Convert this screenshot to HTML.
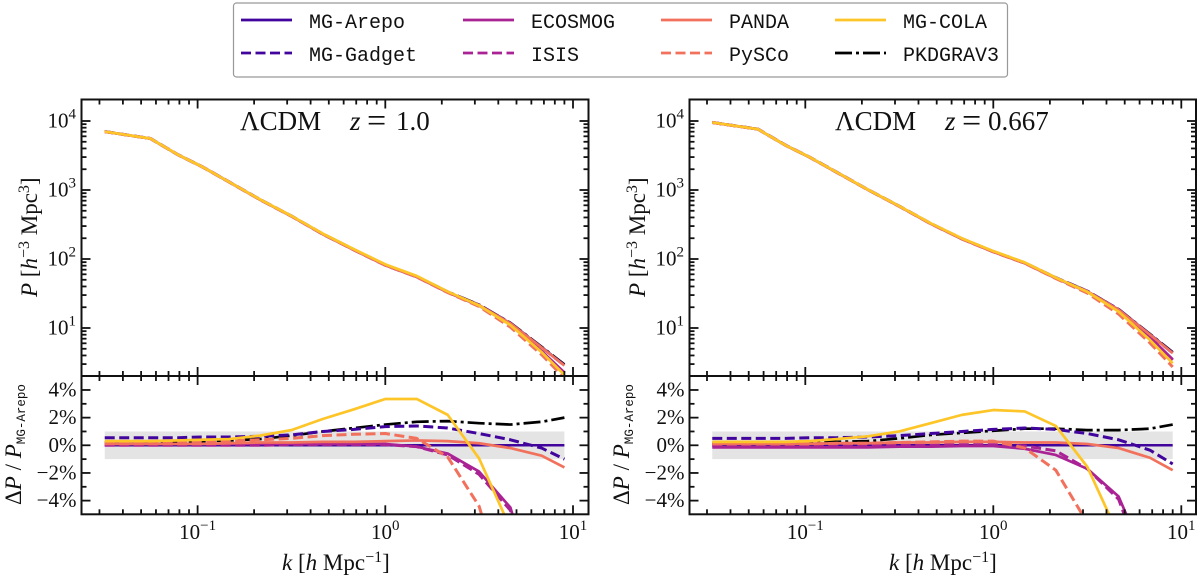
<!DOCTYPE html>
<html lang="en">
<head>
<meta charset="utf-8">
<title>Matter power spectrum comparison</title>
<style>
html,body{margin:0;padding:0;background:#fff;width:1200px;height:579px;overflow:hidden}
svg{display:block}
text{font-family:"Liberation Serif",serif;fill:#111}
.mono{font-family:"Liberation Mono",monospace}
.it{font-style:italic}
</style>
</head>
<body>
<svg id="figure" xmlns="http://www.w3.org/2000/svg" width="1200" height="579" viewBox="0 0 1200 579">
  <g>
    <rect x="233.5" y="3" width="774" height="74" rx="3" fill="#fff" stroke="#999" stroke-width="1.2"/>
    <g><line x1="241" x2="292" y1="20" y2="20" stroke="#41049d" stroke-width="2.8"/><text class="mono" x="309" y="28" font-size="20">MG-Arepo</text></g>
    <g><line x1="241" x2="292" y1="53" y2="53" stroke="#41049d" stroke-width="2.8" stroke-dasharray="10 4.5"/><text class="mono" x="309" y="61" font-size="20">MG-Gadget</text></g>
    <g><line x1="463" x2="514" y1="20" y2="20" stroke="#aa2395" stroke-width="2.8"/><text class="mono" x="531" y="28" font-size="20">ECOSMOG</text></g>
    <g><line x1="463" x2="514" y1="53" y2="53" stroke="#aa2395" stroke-width="2.8" stroke-dasharray="10 4.5"/><text class="mono" x="531" y="61" font-size="20">ISIS</text></g>
    <g><line x1="661" x2="712" y1="20" y2="20" stroke="#f1715c" stroke-width="2.8"/><text class="mono" x="729" y="28" font-size="20">PANDA</text></g>
    <g><line x1="661" x2="712" y1="53" y2="53" stroke="#f1715c" stroke-width="2.8" stroke-dasharray="10 4.5"/><text class="mono" x="729" y="61" font-size="20">PySCo</text></g>
    <g><line x1="835" x2="886" y1="20" y2="20" stroke="#fdc527" stroke-width="2.8"/><text class="mono" x="903" y="28" font-size="20">MG-COLA</text></g>
    <g><line x1="835" x2="886" y1="53" y2="53" stroke="#000" stroke-width="2.8" stroke-dasharray="17 4 3 4"/><text class="mono" x="903" y="61" font-size="20">PKDGRAV3</text></g>
  </g>

  <g>
    <text font-size="27" y="130" x="240">ΛCDM</text>
    <text font-size="27" y="130"><tspan class="it" x="350">z</tspan><tspan x="367" y="131.5" font-size="34">=</tspan><tspan x="396" y="130">1.0</tspan></text>
    <text font-size="23" transform="translate(37,297) rotate(-90)"><tspan class="it">P</tspan> [<tspan class="it">h</tspan><tspan font-size="16" dy="-8">−3</tspan><tspan dy="8"> Mpc</tspan><tspan font-size="16" dy="-8">3</tspan><tspan dy="8">]</tspan></text>
    <text font-size="23" transform="translate(21,505) rotate(-90)">Δ<tspan class="it">P</tspan> / <tspan class="it">P</tspan><tspan class="mono" font-size="12.5" dy="4">MG-Arepo</tspan></text>
    <text font-size="23" x="282" y="570"><tspan class="it">k</tspan> [<tspan class="it">h</tspan> Mpc<tspan font-size="16" dy="-8">−1</tspan><tspan dy="8">]</tspan></text>
  </g>
  <g>
    <text font-size="27" y="130" x="835">ΛCDM</text>
    <text font-size="27" y="130"><tspan class="it" x="945">z</tspan><tspan x="962" y="131.5" font-size="34">=</tspan><tspan x="988" y="130">0.667</tspan></text>
    <text font-size="23" transform="translate(645,297) rotate(-90)"><tspan class="it">P</tspan> [<tspan class="it">h</tspan><tspan font-size="16" dy="-8">−3</tspan><tspan dy="8"> Mpc</tspan><tspan font-size="16" dy="-8">3</tspan><tspan dy="8">]</tspan></text>
    <text font-size="23" transform="translate(629,505) rotate(-90)">Δ<tspan class="it">P</tspan> / <tspan class="it">P</tspan><tspan class="mono" font-size="12.5" dy="4">MG-Arepo</tspan></text>
    <text font-size="23" x="889" y="570"><tspan class="it">k</tspan> [<tspan class="it">h</tspan> Mpc<tspan font-size="16" dy="-8">−1</tspan><tspan dy="8">]</tspan></text>
  </g>
</svg>
<script>
// ---- data ----
const kValues = [0.032,0.056,0.079,0.105,0.147,0.215,0.316,0.464,0.681,1.0,1.47,2.15,3.16,4.64,6.81,9.0];

// reference spectrum (MG-Arepo)
const powerZ1 = [7000,5560,3210,2190,1306,724,417,229,135,81,55,33,21.4,11.7,5.25,2.9];
const powerZ0667 = [9500,7600,4400,3000,1800,1010,580,325,195,127,87,53,34,18.5,8.1,4.4];

// percent differences relative to MG-Arepo, z = 1.0
const gadgetZ1 = [0.55,0.55,0.55,0.6,0.6,0.65,0.75,1.0,1.15,1.35,1.4,1.25,0.85,0.4,-0.2,-1.0];
const ecosmogZ1 = [0.1,0.1,0.1,0.1,0.1,0.1,0.1,0.1,0.1,0.1,-0.1,-0.6,-1.9,-4.5,-12,-22];
const isisZ1 = [0.0,0.0,0.0,0.0,0.0,0.0,0.05,0.05,0.05,0.05,-0.1,-0.7,-2.1,-4.7,-13,-24];
const pandaZ1 = [0.1,0.1,0.1,0.1,0.15,0.2,0.2,0.25,0.25,0.3,0.35,0.3,0.15,-0.2,-0.75,-1.6];
const pyscoZ1 = [0.2,0.2,0.25,0.3,0.3,0.4,0.5,0.7,0.8,0.85,0.5,-0.85,-4.4,-12,-22,-35];
const colaZ1 = [0.3,0.3,0.35,0.4,0.45,0.7,1.1,1.9,2.6,3.35,3.35,2.2,-0.95,-6,-15,-28];
const pkdgravZ1 = [0.2,0.2,0.25,0.3,0.35,0.45,0.7,1.0,1.25,1.5,1.7,1.75,1.6,1.5,1.7,2.0];

// percent differences relative to MG-Arepo, z = 0.667
const gadgetZ0667 = [0.5,0.5,0.5,0.55,0.55,0.6,0.7,0.85,1.0,1.15,1.25,1.15,0.85,0.4,-0.35,-1.35];
const ecosmogZ0667 = [-0.15,-0.15,-0.15,-0.15,-0.15,-0.15,-0.1,-0.1,-0.05,-0.05,-0.25,-0.7,-1.7,-3.7,-9,-20];
const isisZ0667 = [0.0,0.0,0.0,0.0,0.0,0.0,0.0,0.0,0.05,0.05,-0.05,-0.4,-1.7,-3.9,-10,-22];
const pandaZ0667 = [0.1,0.1,0.1,0.1,0.15,0.15,0.2,0.2,0.25,0.25,0.2,0.2,0.1,-0.2,-0.9,-1.8];
const pyscoZ0667 = [0.1,0.1,0.1,0.1,0.15,0.15,0.2,0.25,0.3,0.3,-0.2,-1.8,-5.6,-14,-25,-38];
const colaZ0667 = [0.25,0.25,0.25,0.3,0.45,0.65,1.0,1.6,2.2,2.55,2.45,1.4,-1.55,-6.5,-17,-30];
const pkdgravZ0667 = [0.15,0.15,0.2,0.2,0.25,0.3,0.5,0.75,0.9,1.05,1.2,1.2,1.1,1.1,1.2,1.5];

// tick labels
const xTickExponents = ["−1","0","1"];
const xTickValues = [0.1,1,10];
const xMinorDecades = [0.01,0.1,1];
const powerTickExponents = ["1","2","3","4"];
const powerTickValues = [10,100,1000,10000];
const residualTickLabels = ["4%","2%","0%","−2%","−4%"];
const residualTickValues = [4,2,0,-2,-4];
const residualMinorValues = [3,1,-1,-3];

const arepoDelta = kValues.map(function(){return 0;});

// ---- drawing ----
const SVGNS = 'http://www.w3.org/2000/svg';
const svg = document.getElementById('figure');

function make(parent, tag, attrs, name) {
  const el = document.createElementNS(SVGNS, tag);
  for (const a in attrs) el.setAttribute(a, attrs[a]);
  
  
  parent.appendChild(el);
  return el;
}

// Build a path through the points, cutting segments at the vertical limits.
function clippedPath(xs, ys, yMin, yMax) {
  let d = '';
  let penDown = false;
  for (let i = 0; i < xs.length - 1; i++) {
    let x0 = xs[i], y0 = ys[i], x1 = xs[i+1], y1 = ys[i+1];
    if ((y0 > yMax && y1 > yMax) || (y0 < yMin && y1 < yMin)) { penDown = false; continue; }
    const at = function(y){ return x0 + (x1 - x0) * (y - y0) / (y1 - y0); };
    let sx = x0, sy = y0, ex = x1, ey = y1;
    if (sy > yMax) { sx = at(yMax); sy = yMax; penDown = false; }
    else if (sy < yMin) { sx = at(yMin); sy = yMin; penDown = false; }
    let broke = false;
    if (ey > yMax) { ex = at(yMax); ey = yMax; broke = true; }
    else if (ey < yMin) { ex = at(yMin); ey = yMin; broke = true; }
    if (!penDown) d += 'M' + sx.toFixed(2) + ' ' + sy.toFixed(2);
    d += 'L' + ex.toFixed(2) + ' ' + ey.toFixed(2);
    penDown = !broke;
  }
  return d;
}

function drawPanel(id, frame, power, series) {
  const root = make(svg, 'g', {}, id + '-panel');
  const xScale = function(k){ return frame.x10 + frame.decade * Math.log10(k); };
  const yPower = function(p){ return 259 - 69 * (Math.log10(p) - 2); };
  const yResidual = function(d){ return 445.3 - 13.83 * d; };
  const xL = frame.left, xR = frame.right;
  const top = 99.5, mid = 376, bot = 514.3;

  const defs = make(root, 'defs', {}, id + '-clip-defs');
  const c1 = make(defs, 'clipPath', {id: id + 'clipU'}, id + '-upper-clip');
  make(c1, 'rect', {x:xL, y:top, width:xR-xL, height:mid-top}, id + '-upper-clip-rect');
  const c2 = make(defs, 'clipPath', {id: id + 'clipL'}, id + '-lower-clip');
  make(c2, 'rect', {x:xL, y:mid, width:xR-xL, height:bot-mid}, id + '-lower-clip-rect');

  // shaded one percent band
  make(root, 'rect', {
    x: xScale(kValues[0]), width: xScale(kValues[kValues.length-1]) - xScale(kValues[0]),
    y: yResidual(1), height: yResidual(-1) - yResidual(1), fill: '#e4e4e4'
  }, id + '-one-percent-band');

  const upper = make(root, 'g', {'clip-path': 'url(#' + id + 'clipU)'}, id + '-upper-series');
  const lower = make(root, 'g', {'clip-path': 'url(#' + id + 'clipL)'}, id + '-lower-series');
  const xs = kValues.map(xScale);
  series.forEach(function(s){
    const upY = kValues.map(function(k,i){ return yPower(power[i] * (1 + s.delta[i] / 100)); });
    const loY = kValues.map(function(k,i){ return yResidual(s.delta[i]); });
    const style = {fill:'none', stroke:s.color, 'stroke-width':s.width, 'stroke-linejoin':'round'};
    if (s.dash) style['stroke-dasharray'] = s.dash;
    make(upper, 'path', Object.assign({d:clippedPath(xs, upY, top-4, mid+4)}, style), id + '-power-line-' + s.name);
    make(lower, 'path', Object.assign({d:clippedPath(xs, loY, mid-4, bot+4)}, style), id + '-residual-line-' + s.name);
  });

  // ticks
  const ticks = make(root, 'g', {stroke:'#111', 'stroke-width':1.8, fill:'none'}, id + '-ticks');
  function tick(x1,y1,x2,y2,name){ make(ticks, 'line', {x1:x1,y1:y1,x2:x2,y2:y2}, name); }

  xTickValues.forEach(function(k){
    const x = xScale(k);
    tick(x,top,x,top+9,id+'-x-major-tick');
    tick(x,mid,x,mid-9,id+'-x-major-tick');
    tick(x,mid,x,mid+9,id+'-x-major-tick');
    tick(x,bot,x,bot-9,id+'-x-major-tick');
  });
  xMinorDecades.forEach(function(dec){
    [2,3,4,5,6,7,8,9].forEach(function(m){
      const k = dec * m;
      const x = xScale(k);
      if (x < xL + 2 || x > xR - 2) return;
      tick(x,top,x,top+5,id+'-x-minor-tick');
      tick(x,mid,x,mid-5,id+'-x-minor-tick');
      tick(x,mid,x,mid+5,id+'-x-minor-tick');
      tick(x,bot,x,bot-5,id+'-x-minor-tick');
    });
  });
  powerTickValues.forEach(function(p){
    const y = yPower(p);
    tick(xL,y,xL+9,y,id+'-power-major-tick');
    tick(xR,y,xR-9,y,id+'-power-major-tick');
  });
  [1,10,100,1000,10000].forEach(function(dec){
    [2,3,4,5,6,7,8,9].forEach(function(m){
      const y = yPower(dec * m);
      if (y < top + 2 || y > mid - 2) return;
      tick(xL,y,xL+5,y,id+'-power-minor-tick');
      tick(xR,y,xR-5,y,id+'-power-minor-tick');
    });
  });
  residualTickValues.forEach(function(d){
    const y = yResidual(d);
    tick(xL,y,xL+9,y,id+'-residual-major-tick');
    tick(xR,y,xR-9,y,id+'-residual-major-tick');
  });
  residualMinorValues.forEach(function(d){
    const y = yResidual(d);
    tick(xL,y,xL+5,y,id+'-residual-minor-tick');
    tick(xR,y,xR-5,y,id+'-residual-minor-tick');
  });

  // frames
  make(root, 'rect', {x:xL, y:top, width:xR-xL, height:mid-top, fill:'none', stroke:'#111', 'stroke-width':2}, id + '-upper-frame');
  make(root, 'rect', {x:xL, y:mid, width:xR-xL, height:bot-mid, fill:'none', stroke:'#111', 'stroke-width':2}, id + '-lower-frame');

  // tick labels
  const labels = make(root, 'g', {}, id + '-tick-labels');
  xTickValues.forEach(function(k,i){
    const t = make(labels, 'text', {x:xScale(k), y:539, 'font-size':21, 'text-anchor':'middle'}, id + '-x-tick-label');
    t.textContent = '10';
    const sup = make(t, 'tspan', {dy:-9, 'font-size':15}, id + '-x-tick-exponent');
    sup.textContent = xTickExponents[i];
  });
  powerTickValues.forEach(function(p,i){
    const t = make(labels, 'text', {x:xL-5.5, y:yPower(p)+6.5, 'font-size':21, 'text-anchor':'end'}, id + '-power-tick-label');
    t.textContent = '10';
    const sup = make(t, 'tspan', {dy:-9, 'font-size':15}, id + '-power-tick-exponent');
    sup.textContent = powerTickExponents[i];
  });
  residualTickValues.forEach(function(d,i){
    const t = make(labels, 'text', {x:xL-5, y:yResidual(d)+6.5, 'font-size':21, 'text-anchor':'end'}, id + '-residual-tick-label');
    t.textContent = residualTickLabels[i];
  });
}

function seriesList(gadget, ecosmog, isis, panda, pysco, cola, pkd) {
  const violet = '#41049d', magenta = '#aa2395', coral = '#f1715c', gold = '#fdc527';
  return [
    {name:'pkdgrav3', delta:pkd, color:'#000', width:2.7, dash:'17 4 3 4'},
    {name:'mg-arepo', delta:arepoDelta, color:violet, width:2.5},
    {name:'mg-gadget', delta:gadget, color:violet, width:3, dash:'10 4.5'},
    {name:'ecosmog', delta:ecosmog, color:magenta, width:2.7},
    {name:'isis', delta:isis, color:magenta, width:3, dash:'10 4.5'},
    {name:'panda', delta:panda, color:coral, width:2.7},
    {name:'pysco', delta:pysco, color:coral, width:3, dash:'10 4.5'},
    {name:'mg-cola', delta:cola, color:gold, width:2.7}
  ];
}

drawPanel('left', {left:81.5, right:588.5, x10:385.3, decade:187.7}, powerZ1,
  seriesList(gadgetZ1, ecosmogZ1, isisZ1, pandaZ1, pyscoZ1, colaZ1, pkdgravZ1));
drawPanel('right', {left:689.5, right:1196, x10:993.3, decade:188}, powerZ0667,
  seriesList(gadgetZ0667, ecosmogZ0667, isisZ0667, pandaZ0667, pyscoZ0667, colaZ0667, pkdgravZ0667));
</script>
</body>
</html>
